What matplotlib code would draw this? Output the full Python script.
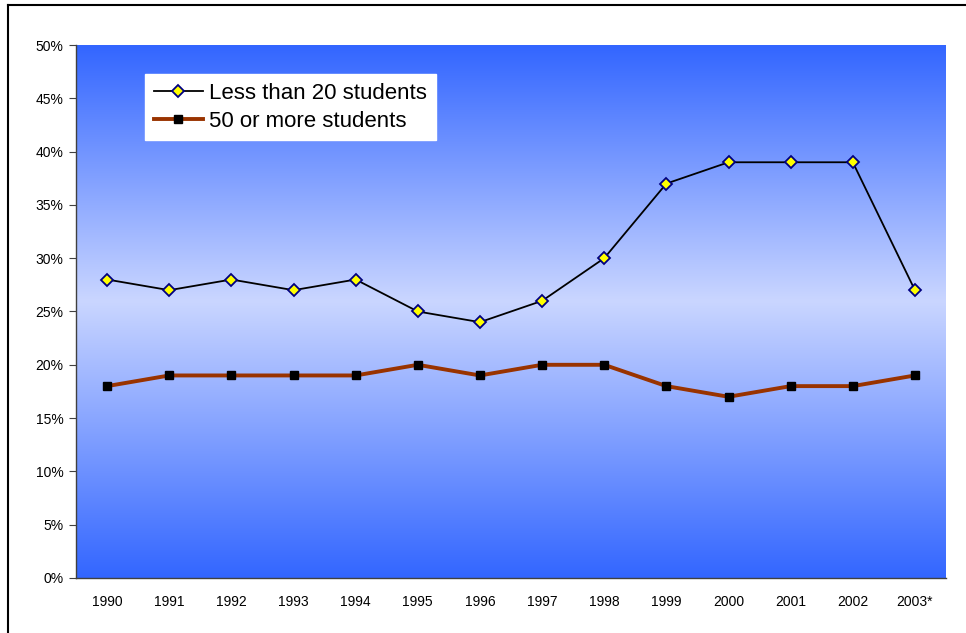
import numpy as np
import matplotlib.pyplot as plt
from matplotlib.colors import LinearSegmentedColormap
from matplotlib.ticker import PercentFormatter
from matplotlib.lines import Line2D

years = ['1990', '1991', '1992', '1993', '1994', '1995', '1996', '1997',
         '1998', '1999', '2000', '2001', '2002', '2003*']
small_classes = [28, 27, 28, 27, 28, 25, 24, 26, 30, 37, 39, 39, 39, 27]
large_classes = [18, 19, 19, 19, 19, 20, 19, 20, 20, 18, 17, 18, 18, 19]

plt.rcParams['font.family'] = ['Liberation Sans', 'DejaVu Sans']

fig = plt.figure(figsize=(9.66, 6.33), dpi=100)
ax = fig.add_axes([0.0787, 0.0869, 0.9006, 0.842])

# blue -> pale lavender -> blue background, like the Excel fill
cmap = LinearSegmentedColormap.from_list(
    'bg', [(0, '#3366ff'), (0.48, '#cad6ff'), (1, '#3366ff')])
grad = np.linspace(0, 1, 256).reshape(-1, 1)
ax.imshow(grad, cmap=cmap, aspect='auto', extent=[-0.5, 13.5, 0, 50],
          zorder=0, interpolation='bicubic')

x = np.arange(len(years))
ax.plot(x, small_classes, color='black', lw=1.3, marker='D', ms=6,
        mfc='#ffff00', mec='#000080', mew=1.3, zorder=3,
        label='Less than 20 students')
ax.plot(x, large_classes, color='#993300', lw=2.8, marker='s', ms=6,
        mfc='black', mec='black', zorder=3, label='50 or more students')

ax.set_xlim(-0.5, 13.5)
ax.set_ylim(0, 50)
ax.set_yticks(np.arange(0, 51, 5))
ax.yaxis.set_major_formatter(PercentFormatter(decimals=0))
ax.set_xticks(x)
ax.set_xticklabels(years)
ax.tick_params(axis='x', length=0, pad=12, labelsize=10)
ax.tick_params(axis='y', length=5, direction='out', color='#404040',
               labelsize=10, pad=4)
for s in ['top', 'right']:
    ax.spines[s].set_visible(False)
for s in ['left', 'bottom']:
    ax.spines[s].set_color('#404040')
    ax.spines[s].set_linewidth(1.0)

leg = ax.legend(loc='upper left', bbox_to_anchor=(0.079, 0.9456),
                borderaxespad=0, fontsize=16, frameon=True, fancybox=False,
                framealpha=1, edgecolor='white', handlelength=2.2,
                handletextpad=0.3, labelspacing=0.3, borderpad=0.4)
leg.get_frame().set_facecolor('white')

# outer chart border (top and left visible in the crop)
fig.add_artist(Line2D([8 / 966, 1], [1 - 5 / 633, 1 - 5 / 633],
                      color='black', lw=1.5, transform=fig.transFigure))
fig.add_artist(Line2D([8 / 966, 8 / 966], [0, 1 - 5 / 633],
                      color='black', lw=1.5, transform=fig.transFigure))

fig.savefig('out.png', dpi=100)
